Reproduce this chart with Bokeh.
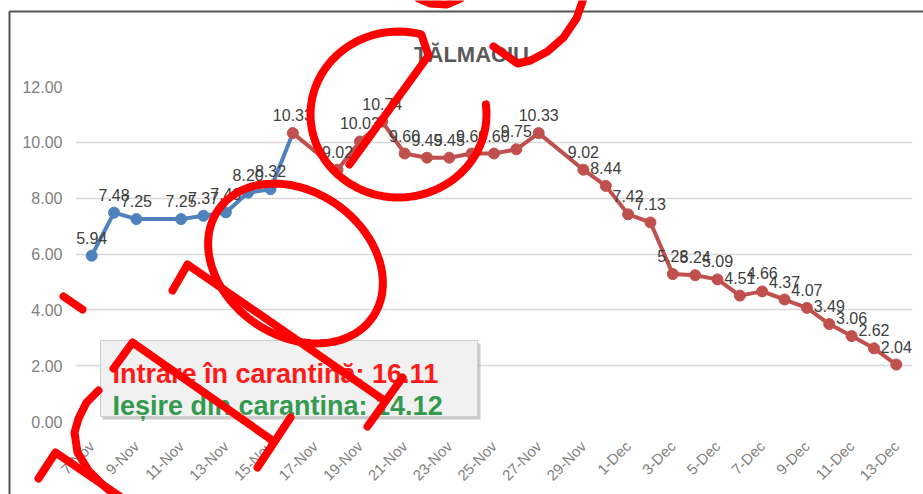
import math
from datetime import date
import numpy as np
from bokeh.plotting import figure
from bokeh.layouts import column
from bokeh.models import (Range1d, FixedTicker, BoxAnnotation, Label)
from bokeh.core.properties import value
from bokeh.embed import file_html
from bokeh.resources import INLINE

# ---------------- data ----------------
TITLE = "TĂLMACIU"
YEAR = 2020
START = "7-Nov"
BLUE_DATES = ["7-Nov", "8-Nov", "9-Nov", "11-Nov", "12-Nov", "13-Nov", "14-Nov", "15-Nov", "16-Nov"]
BLUE_VALUES = [5.94, 7.48, 7.25, 7.25, 7.37, 7.49, 8.20, 8.32, 10.33]
RED_DATES = ["16-Nov", "18-Nov", "19-Nov", "20-Nov", "21-Nov", "22-Nov", "23-Nov", "24-Nov",
             "25-Nov", "26-Nov", "27-Nov", "29-Nov", "30-Nov",
             "1-Dec", "2-Dec", "3-Dec", "4-Dec", "5-Dec", "6-Dec", "7-Dec", "8-Dec",
             "9-Dec", "10-Dec", "11-Dec", "12-Dec", "13-Dec"]
RED_VALUES = [10.33, 9.02, 10.03, 10.74, 9.60, 9.45, 9.45, 9.60, 9.60, 9.75, 10.33, 9.02, 8.44,
              7.42, 7.13, 5.28, 5.24, 5.09, 4.51, 4.66, 4.37, 4.07, 3.49, 3.06, 2.62, 2.04]
XTICK_LABELS = ["7-Nov", "9-Nov", "11-Nov", "13-Nov", "15-Nov", "17-Nov", "19-Nov", "21-Nov",
                "23-Nov", "25-Nov", "27-Nov", "29-Nov", "1-Dec", "3-Dec", "5-Dec", "7-Dec",
                "9-Dec", "11-Dec", "13-Dec"]
YTICKS = [0, 2, 4, 6, 8, 10, 12]
NOTE_LINE1 = "Intrare în carantină: 16.11"
NOTE_LINE2 = "Ieșire din carantina: 14.12"

MONTHS = {"Nov": 11, "Dec": 12}


def day_index(s):
    d, m = s.split("-")
    d0, m0 = START.split("-")
    return (date(YEAR, MONTHS[m], int(d)) - date(YEAR, MONTHS[m0], int(d0))).days


bx = [day_index(s) for s in BLUE_DATES]
rx = [day_index(s) for s in RED_DATES]
tick_pos = [day_index(s) for s in XTICK_LABELS]

# ---------------- layout (canvas pixels) ----------------
W, H = 923, 494
PX_PER_DAY = 22.35
DAY0_PX = 91.2
FL, FR, FT, FB = 75, 912, 86, 421
X_RANGE = ((FL - DAY0_PX) / PX_PER_DAY, (FR - DAY0_PX) / PX_PER_DAY)
Y_RANGE = (0, 12)


def px(xp):
    return X_RANGE[0] + (xp - FL) / (FR - FL) * (X_RANGE[1] - X_RANGE[0])


def py(yp):
    return Y_RANGE[1] - (yp - FT) / (FB - FT) * (Y_RANGE[1] - Y_RANGE[0])


p = figure(width=W, height=H, output_backend="svg", toolbar_location=None,
           x_range=Range1d(*X_RANGE), y_range=Range1d(*Y_RANGE),
           min_border_left=FL, min_border_right=W - FR,
           min_border_top=FT, min_border_bottom=H - FB)
p.outline_line_color = None
p.background_fill_color = "white"
p.border_fill_color = "white"

p.xgrid.grid_line_color = None
p.ygrid.grid_line_color = "#d9d9d9"
p.ygrid.grid_line_width = 1.5

p.yaxis.ticker = FixedTicker(ticks=YTICKS)
p.yaxis.major_label_overrides = {t: f"{t:.2f}" for t in YTICKS}
p.yaxis.axis_line_color = None
p.yaxis.major_tick_line_color = None
p.yaxis.minor_tick_line_color = None
p.yaxis.major_tick_out = 0
p.yaxis.major_tick_in = 0
p.yaxis.major_label_standoff = 13
p.yaxis.major_label_text_font = "Liberation Sans"
p.yaxis.major_label_text_font_size = "16px"
p.yaxis.major_label_text_color = "#7f7f7f"

p.xaxis.ticker = FixedTicker(ticks=tick_pos)
p.xaxis.major_label_overrides = {t: l for t, l in zip(tick_pos, XTICK_LABELS)}
p.xaxis.major_label_orientation = math.pi / 4
p.xaxis.axis_line_color = None
p.xaxis.major_tick_line_color = None
p.xaxis.minor_tick_line_color = None
p.xaxis.major_label_standoff = 16
p.xaxis.major_label_text_font = "Liberation Sans"
p.xaxis.major_label_text_font_size = "15px"
p.xaxis.major_label_text_color = "#7f7f7f"

BLUE = "#4f81bd"
RED = "#c0504d"

p.line(bx, BLUE_VALUES, line_color=BLUE, line_width=4)
p.scatter(bx[:-1], BLUE_VALUES[:-1], size=11, fill_color=BLUE, line_color=BLUE)
p.line(rx, RED_VALUES, line_color=RED, line_width=4)
p.scatter(rx, RED_VALUES, size=11, fill_color=RED, line_color=RED)

lab_x = bx[:-1] + rx
lab_y = BLUE_VALUES[:-1] + RED_VALUES
p.text(lab_x, lab_y, text=[f"{v:.2f}" for v in lab_y], text_align="center",
       text_baseline="alphabetic", y_offset=-18, text_font=value("Liberation Sans"),
       text_font_size="16px", text_color="#404040")

# note box
p.add_layout(BoxAnnotation(left=px(102), right=px(480), top=py(343), bottom=py(419),
                           fill_color="#a6a6a6", fill_alpha=0.6, line_color=None))
p.add_layout(BoxAnnotation(left=px(100), right=px(477), top=py(340), bottom=py(416),
                           fill_color="#f1f1f1", fill_alpha=1.0, line_color="#cfcfcf",
                           line_alpha=1.0, line_width=1))
p.add_layout(Label(x=px(112), y=py(373), text=NOTE_LINE1, text_font="Liberation Sans",
                   text_font_style="bold", text_font_size="27px", text_color="#ff1a1a",
                   text_baseline="alphabetic"))
p.add_layout(Label(x=px(112), y=py(405), text=NOTE_LINE2, text_font="Liberation Sans",
                   text_font_style="bold", text_font_size="27px", text_color="#339a4f",
                   text_baseline="alphabetic"))

# ---------------- overlay figure: title, border, hand-drawn red strokes ----------------
q = figure(width=W, height=H, output_backend="svg", toolbar_location=None,
           x_range=Range1d(0, W), y_range=Range1d(H, 0),
           min_border=0, min_border_left=0, min_border_right=0,
           min_border_top=0, min_border_bottom=0)
q.axis.visible = False
q.grid.visible = False
q.outline_line_color = None
q.background_fill_alpha = 0
q.border_fill_alpha = 0
q.styles = {"position": "absolute", "top": "0px", "left": "0px", "z-index": "10"}
for fig in (p, q):
    if "frame_align" in fig.properties():
        fig.frame_align = False

q.text([471], [54], text=[TITLE], text_align="center", text_baseline="alphabetic",
       text_font=value("Liberation Sans"), text_font_style="bold",
       text_font_size="22px", text_color="#595959")

# chart border (top + left)
q.line([9, 9, 940], [520, 11, 11], line_color="#555555", line_width=2)


def ellipse_pts(cx, cy, a, b, rot_deg, t0, t1, n=80):
    t = np.radians(np.linspace(t0, t1, n))
    r = np.radians(rot_deg)
    xs = cx + a * np.cos(t) * np.cos(r) - b * np.sin(t) * np.sin(r)
    ys = cy + a * np.cos(t) * np.sin(r) + b * np.sin(t) * np.cos(r)
    return list(zip(xs, ys))


strokes = [
    ellipse_pts(398, 114, 88, 83, 0, -7, 285) + [(428, 55), (349, 164)],
    [(583, -2), (576, 18), (563, 37), (547, 51), (530, 60), (517, 63), (493, 46)],
    [(418, -2), (430, 3), (446, 4), (460, -2)],
    ellipse_pts(295, 263, 94, 72, 35, 0, 362, 120),
    [(172, 290), (187, 264), (381, 398)],
    [(402, 377), (367, 426)],
    [(113, 368), (132, 342), (272, 440)],
    [(290, 417), (257, 467)],
    [(38, 478), (55, 452), (140, 510)],
    [(98, 390), (86, 402), (78, 418), (74, 432), (77, 452), (88, 470), (102, 484), (118, 498)],
    [(63, 296), (82, 309)],
]
for s in strokes:
    q.line([float(a) for a, b in s], [float(b) for a, b in s], line_color="#ff0000",
           line_width=8, line_join="round", line_cap="round")

layout = column(p, q)
open("out.html", "w").write(file_html(layout, INLINE))
